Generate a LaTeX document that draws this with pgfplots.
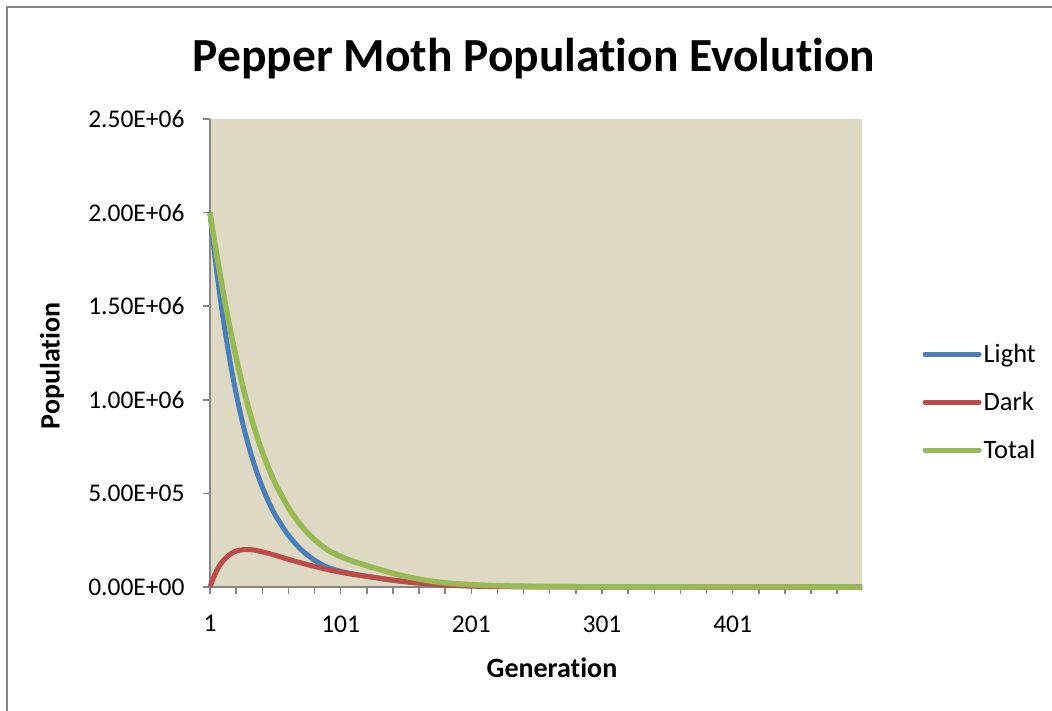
\documentclass[border=0pt]{standalone}
\usepackage{pgfplots}
\pgfplotsset{compat=1.18}
\usepackage{pgfplotstable}
\usepackage{fontspec}
\setmainfont{Carlito}[Ligatures=NoCommon]
\definecolor{bgtan}{HTML}{DDD9C3}
\definecolor{axgray}{HTML}{868686}
\definecolor{lightc}{HTML}{4A7EBB}
\definecolor{darkc}{HTML}{BE4B48}
\definecolor{totalc}{HTML}{98B954}
\pgfplotstableread{
gen light dark total
1 2000000 0 2000000
2 1935000 20000 1955000
3 1870000 38600 1908600
4 1812000 55600 1867600
6 1696000 85500 1781500
8 1588000 110500 1698500
11 1438000 140000 1578000
16 1219000 173000 1392000
21 1034000 192000 1226000
26 876000 199000 1075000
31 743000 200000 943000
36 630000 196000 826000
41 534000 188000 722000
46 453000 179000 632000
51 384000 169000 553000
61 276000 148000 424000
71 198000 128000 326000
81 143000 110000 253000
91 105000 93000 198000
101 84000 79000 163000
111 69000 67000 136000
121 57000 57000 114000
131 46000 47000 93000
141 36000 37000 73000
151 28000 28000 56000
161 21000 21000 42000
171 16000 15000 31000
181 12000 10000 22000
191 9500 7000 16500
201 8000 4500 12500
221 5000 2000 7000
251 2500 600 3100
301 500 100 600
351 150 20 170
401 40 5 45
451 12 1 13
500 4 0 4
}\moth
\begin{document}
\begin{tikzpicture}[x=1pt,y=1pt]
\useasboundingbox (0,0) rectangle (1052,710);
\draw[axgray, line width=2pt] (7,-20) -- (7,703) -- (1080,703);
\node[font=\fontsize{47.5}{57}\selectfont\bfseries] at (534,651) {Pepper Moth Population Evolution};
\node[font=\fontsize{28}{34}\selectfont\bfseries, rotate=90] at (52,344) {Population};
\node[font=\fontsize{28}{34}\selectfont\bfseries] at (552,42) {Generation};
\begin{axis}[
  at={(210pt,123pt)}, anchor=south west,
  width=652pt, height=468pt, scale only axis,
  xmin=1, xmax=500, ymin=0, ymax=2500000,
  axis background/.style={fill=bgtan},
  axis x line*=bottom, axis y line*=left,
  axis line style={draw=axgray, line width=1.5pt, -},
  tick align=outside, major tick length=7pt,
  every tick/.style={draw=axgray, line width=1.5pt},
  xtick={1,21,...,481},
  xticklabels={1,,,,,101,,,,,201,,,,,301,,,,,401,,,,},
  ytick={0,500000,1000000,1500000,2000000,2500000},
  yticklabels={0.00E+00,5.00E+05,1.00E+06,1.50E+06,2.00E+06,2.50E+06},
  scaled y ticks=false,
  tick label style={font=\fontsize{25.5}{31}\selectfont},
  /pgf/number format/assume math mode=true,
  yticklabel style={xshift=-15pt},
  xticklabel style={yshift=-18pt},
  clip=false,
  legend style={draw=none, fill=none, at={(rel axis cs:1.088,0.395)}, anchor=west,
    font=\fontsize{26.5}{32}\selectfont, row sep=24pt},
  legend cell align=left,
  legend image code/.code={\draw[#1, line width=5pt, line cap=round] (0pt,0pt) -- (54pt,0pt);},
]
\addplot[lightc, line width=5pt, line join=round, smooth] table[x=gen, y=light] {\moth};
\addlegendentry{Light}
\addplot[darkc, line width=5pt, line join=round, smooth] table[x=gen, y=dark] {\moth};
\addlegendentry{Dark}
\addplot[totalc, line width=5.5pt, line join=round, smooth] table[x=gen, y=total] {\moth};
\addlegendentry{Total}
\end{axis}
\end{tikzpicture}
\end{document}
